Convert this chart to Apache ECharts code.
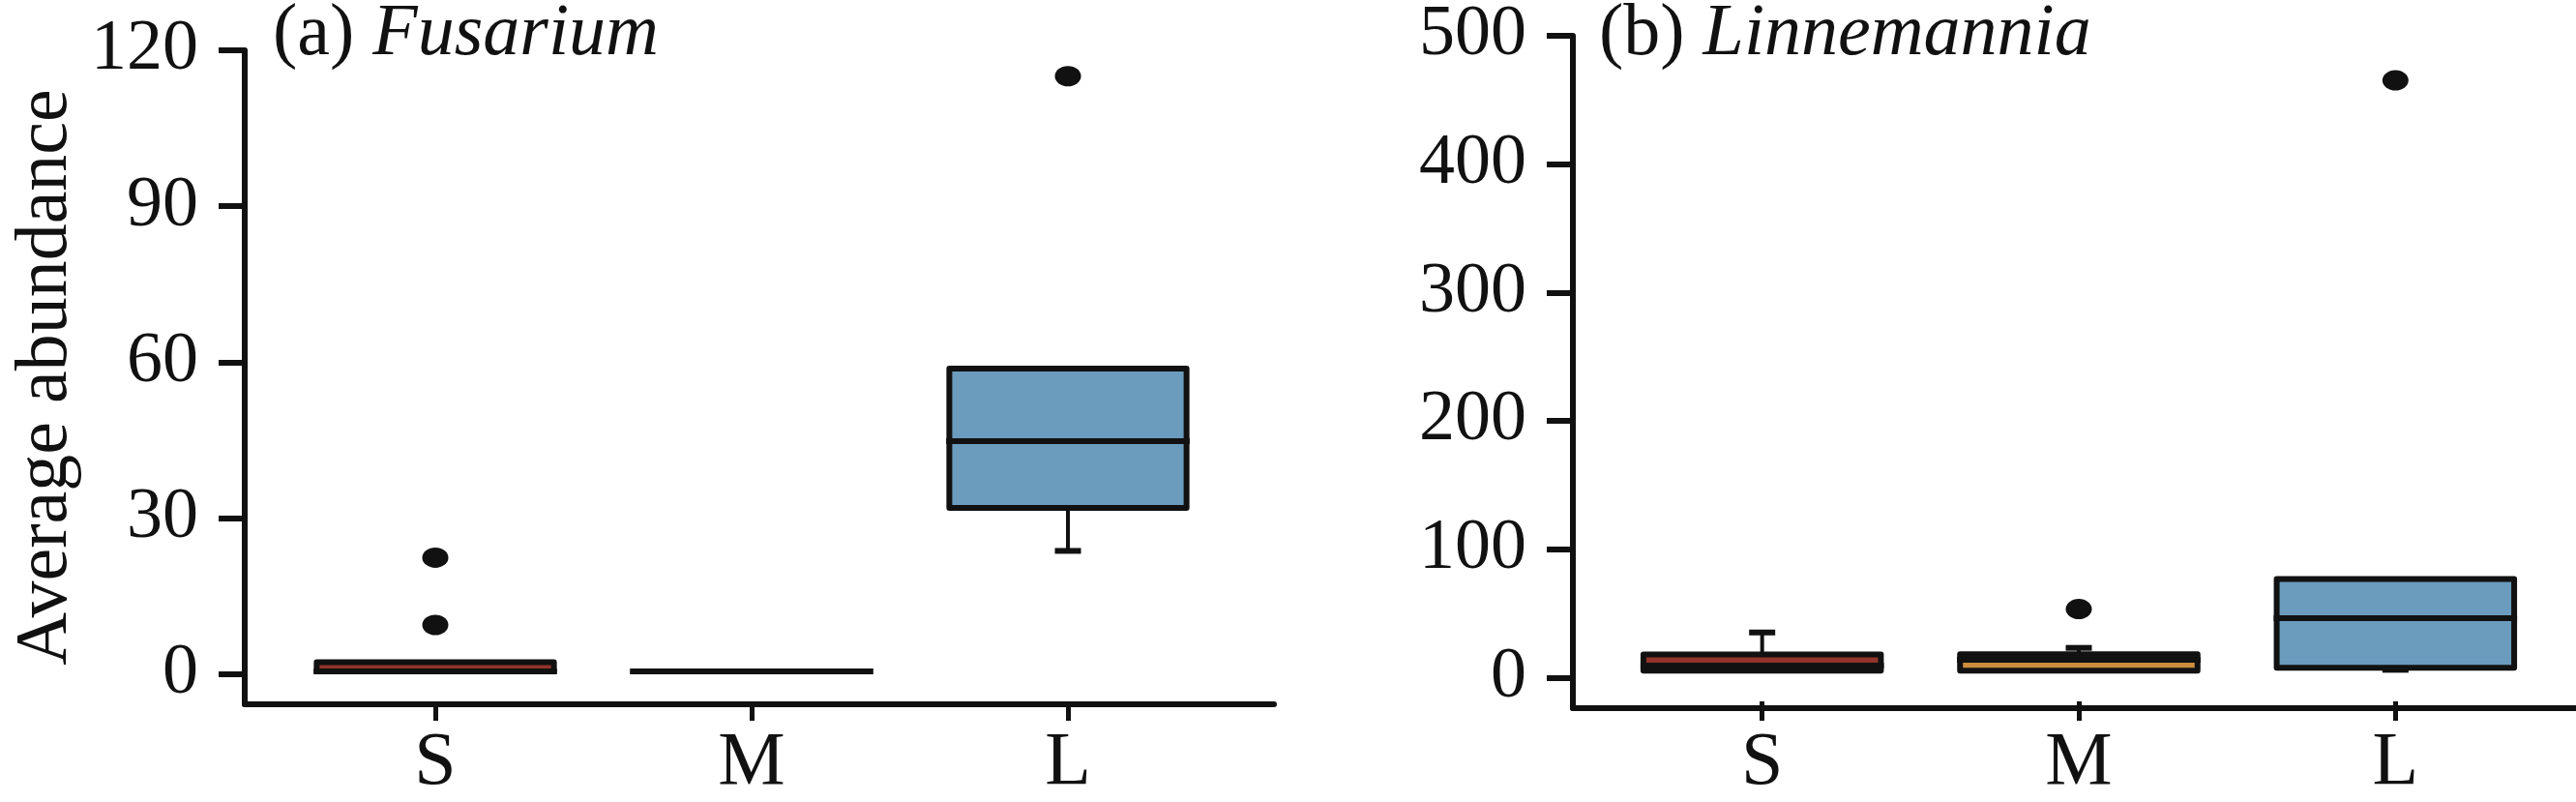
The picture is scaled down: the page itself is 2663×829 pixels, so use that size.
<!DOCTYPE html>
<html>
<head>
<meta charset="utf-8">
<script src="https://cdn.jsdelivr.net/npm/echarts@6/dist/echarts.min.js"></script>
<style>
html,body{margin:0;padding:0;background:#fff;}
#chart{width:2663px;height:829px;}
</style>
</head>
<body>
<div id="chart"></div>
<script>
// ---------- data ----------
const categories = ['S', 'M', 'L'];
// [min, Q1, median, Q3, max] per category
const fusariumBoxes = [[0, 0, 0, 1.8, 1.8], [0, 0, 0, 0, 0], [23.3, 31.6, 44.5, 58.5, 58.5]];
const fusariumOutliers = [['S', 22], ['S', 9], ['L', 115]];
const linnemanniaBoxes = [[0, 0, 4, 12.7, 29.8], [0, 0, 8.5, 12.9, 17.8], [0.7, 2.3, 41, 71.5, 71.5]];
const linnemanniaOutliers = [['M', 48], ['L', 460]];
const fusariumTicks = [0, 30, 60, 90, 120];
const linnemanniaTicks = [0, 100, 200, 300, 400, 500];
const boxColors = ['#93342a', '#cd8c3e', '#6b9bbd'];

// ---------- styling ----------
const FONT = '"Liberation Serif", "Times New Roman", serif';
const INK = '#111111';
const LW = 6;

function boxRender(params, api) {
  const idx = api.value(0);
  const mn = api.value(1), q1 = api.value(2), md = api.value(3), q3 = api.value(4), mx = api.value(5);
  const c = api.coord([idx, md]);
  const cx = c[0];
  const band = api.size([1, 0])[0];
  const half = band * 0.375;
  const capHalf = 13.5;
  const y = v => api.coord([idx, v])[1];
  const children = [];
  if (mx > q3) {
    children.push({ type: 'rect', shape: { x: cx - 2, y: y(mx), width: 4, height: y(q3) - y(mx) }, style: { fill: INK } });
    children.push({ type: 'rect', shape: { x: cx - capHalf, y: y(mx) - 3, width: 2 * capHalf, height: 6 }, style: { fill: INK } });
  }
  if (mn < q1) {
    children.push({ type: 'rect', shape: { x: cx - 2, y: y(q1), width: 4, height: y(mn) - y(q1) }, style: { fill: INK } });
    children.push({ type: 'rect', shape: { x: cx - capHalf, y: y(mn) - 3, width: 2 * capHalf, height: 6 }, style: { fill: INK } });
  }
  const h = y(q1) - y(q3);
  if (h >= 1) {
    children.push({ type: 'rect', shape: { x: cx - half, y: y(q3), width: 2 * half, height: h },
      style: { fill: boxColors[idx], stroke: INK, lineWidth: LW, lineJoin: 'round' } });
  }
  children.push({ type: 'rect', shape: { x: cx - half - LW / 2, y: c[1] - LW / 2, width: 2 * half + LW, height: LW },
    style: { fill: INK } });
  return { type: 'group', children };
}

function boxData(boxes) {
  return boxes.map((b, i) => [i].concat(b));
}
function medianData(boxes) {
  return boxes.map((b, i) => [categories[i], b[2]]);
}

const labelStyle = { fontFamily: FONT, fontSize: 74, color: INK };

function frameX(gridIndex) {
  return { type: 'value', gridIndex, min: 0, max: 1,
    axisLine: { show: true, onZero: false, lineStyle: { color: INK, width: LW } },
    axisTick: { show: false }, axisLabel: { show: false }, splitLine: { show: false } };
}
function frameY(gridIndex, min, max, ticks, name) {
  return { type: 'value', gridIndex, min, max,
    name: name || '', nameLocation: 'middle', nameGap: 167,
    nameTextStyle: { fontFamily: FONT, fontSize: 76, color: INK },
    axisLine: { show: true, onZero: false, lineStyle: { color: INK, width: LW } },
    axisTick: { show: true, inside: false, length: 27, lineStyle: { color: INK, width: LW }, customValues: ticks },
    axisLabel: Object.assign({ margin: 48, customValues: ticks }, labelStyle),
    splitLine: { show: false } };
}
function dataX(gridIndex) {
  return { type: 'category', gridIndex, data: categories, boundaryGap: true,
    axisLine: { show: false, onZero: false },
    axisTick: { show: true, alignWithLabel: true, length: 20, lineStyle: { color: INK, width: 5 } },
    axisLabel: { margin: 26, fontFamily: FONT, fontSize: 78, color: INK },
    splitLine: { show: false } };
}
function dataY(gridIndex, min, max) {
  return { type: 'value', gridIndex, min, max, show: false, splitLine: { show: false } };
}

const titleStyle = { fontFamily: FONT, fontSize: 76, fontWeight: 'normal', color: INK,
  rich: { i: { fontFamily: FONT, fontSize: 76, fontStyle: 'italic', color: INK } } };

const option = {
  animation: false,
  title: [
    { text: '(a) {i|Fusarium}', left: 282, top: -2, padding: 0, textStyle: titleStyle },
    { text: '(b) {i|Linnemannia}', left: 1653, top: -2, padding: 0, textStyle: titleStyle }
  ],
  grid: [
    { left: 286.5, top: 52, width: 981, height: 676 },
    { left: 253, top: 52, width: 1064, height: 676 },
    { left: 1658, top: 30, width: 982, height: 702 },
    { left: 1626, top: 30, width: 1037, height: 702 }
  ],
  xAxis: [dataX(0), frameX(1), dataX(2), frameX(3)],
  yAxis: [
    dataY(0, -5.77, 120),
    frameY(1, -5.77, 120, fusariumTicks, 'Average abundance'),
    dataY(2, -23.9, 500),
    frameY(3, -23.9, 500, linnemanniaTicks)
  ],
  series: [
    { type: 'custom', xAxisIndex: 0, yAxisIndex: 0, renderItem: boxRender, z: 10,
      encode: { x: 0, y: [1, 2, 3, 4, 5] }, data: boxData(fusariumBoxes) },
    { type: 'scatter', xAxisIndex: 0, yAxisIndex: 0, symbol: 'rect', symbolSize: [251, LW], clip: false,
      itemStyle: { color: INK, opacity: 1 }, data: medianData(fusariumBoxes), z: 11 },
    { type: 'scatter', xAxisIndex: 0, yAxisIndex: 0, symbol: 'circle', symbolSize: [27, 21],
      itemStyle: { color: INK, opacity: 1 }, data: fusariumOutliers, z: 11 },
    { type: 'custom', xAxisIndex: 2, yAxisIndex: 2, renderItem: boxRender, z: 10,
      encode: { x: 0, y: [1, 2, 3, 4, 5] }, data: boxData(linnemanniaBoxes) },
    { type: 'scatter', xAxisIndex: 2, yAxisIndex: 2, symbol: 'rect', symbolSize: [251, LW], clip: false,
      itemStyle: { color: INK, opacity: 1 }, data: medianData(linnemanniaBoxes), z: 11 },
    { type: 'scatter', xAxisIndex: 2, yAxisIndex: 2, symbol: 'circle', symbolSize: [27, 21],
      itemStyle: { color: INK, opacity: 1 }, data: linnemanniaOutliers, z: 11 }
  ]
};

const chart = echarts.init(document.getElementById('chart'), null, { renderer: 'canvas' });
chart.setOption(option);
</script>
</body>
</html>
